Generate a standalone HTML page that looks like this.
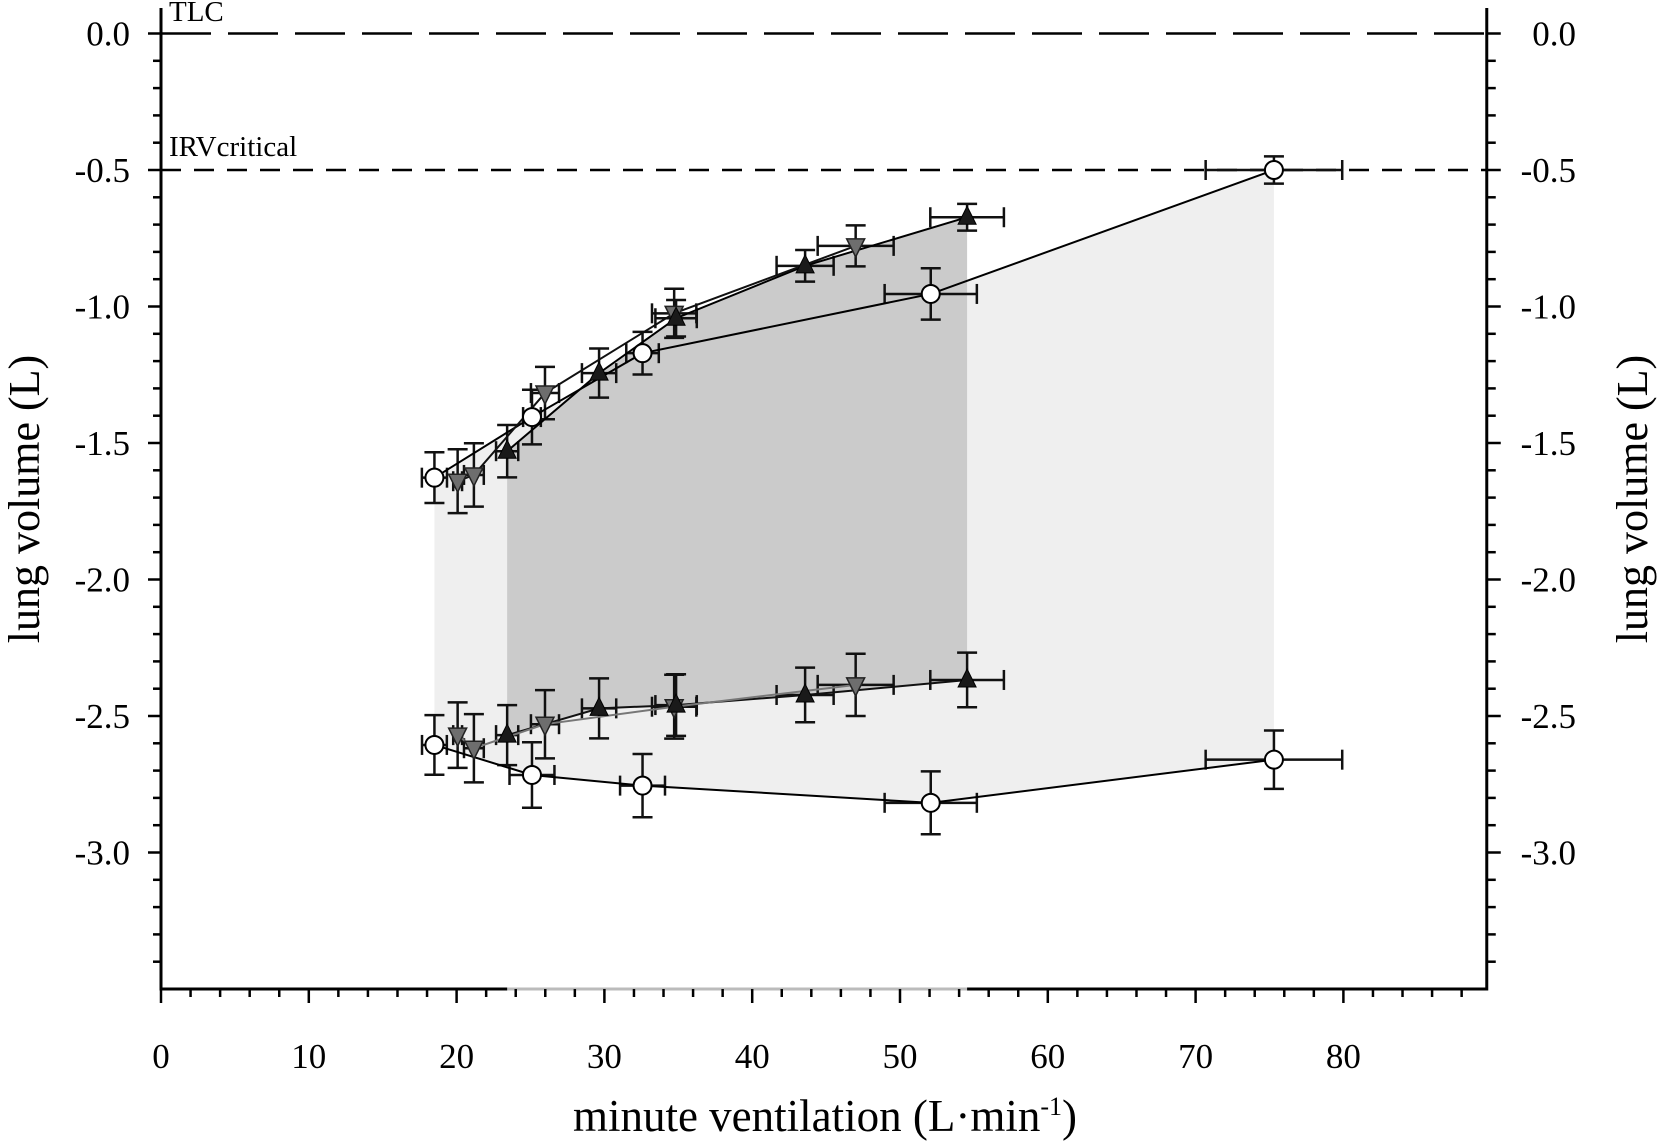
<!DOCTYPE html>
<html><head><meta charset="utf-8"><style>
html,body{margin:0;padding:0;background:#fff}
svg{display:block}
text{font-family:"Liberation Serif",serif;fill:#000}
</style></head><body>
<svg id="chart" width="1658" height="1144" viewBox="0 0 1658 1144" xmlns="http://www.w3.org/2000/svg">
<g id="shade"></g>
<g id="refs"></g>
<g id="series"></g>
<g id="axes"></g>
</svg>
<script>
// ---- data ----
const circX   = [18.5, 25.1, 32.58, 52.08, 75.3];
const circUpY = [-1.627, -1.405, -1.171, -0.954, -0.50];
const circUpYErr = [0.093, 0.10, 0.078, 0.094, 0.05];
const circLoY = [-2.606, -2.716, -2.755, -2.818, -2.66];
const circLoYErr = [0.109, 0.12, 0.116, 0.115, 0.107];
const circXErr = [0.85, 0.6, 1.1, 3.12, 4.62];
const circLoXErr = [0.84, 1.52, 1.52, 3.12, 4.62];

const upX   = [23.42, 29.64, 34.85, 43.58, 54.54];
const upUpY = [-1.53, -1.244, -1.043, -0.851, -0.673];
const upUpYErr = [0.096, 0.09, 0.067, 0.058, 0.049];
const upLoY = [-2.57, -2.472, -2.46, -2.423, -2.368];
const upLoYErr = [0.11, 0.11, 0.113, 0.10, 0.10];
const upXErr = [0.75, 1.16, 1.4, 1.93, 2.49];

const dnX   = [20.07, 21.17, 25.98, 34.72, 47.0];
const dnUpY = [-1.64, -1.617, -1.317, -1.025, -0.778];
const dnUpYErr = [0.117, 0.116, 0.096, 0.09, 0.075];
const dnLoY = [-2.57, -2.618, -2.53, -2.466, -2.386];
const dnLoYErr = [0.12, 0.125, 0.125, 0.117, 0.114];
const dnXErr = [0.3, 0.67, 0.95, 1.5, 2.57];

const xTicks = [0, 10, 20, 30, 40, 50, 60, 70, 80];
const yTicks = [0, -0.5, -1.0, -1.5, -2.0, -2.5, -3.0];
const yTickLabels = ["0.0", "-0.5", "-1.0", "-1.5", "-2.0", "-2.5", "-3.0"];

// ---- scales ----
const X0 = 161, XPU = 14.78, XMAX = 89.7;
const Y0 = 33.5, YPU = 273, YMIN = -3.5;
const sx = v => X0 + v * XPU;
const sy = v => Y0 - v * YPU;
const NS = "http://www.w3.org/2000/svg";
function mk(tag, attrs, parent) {
  const e = document.createElementNS(NS, tag);
  for (const k in attrs) e.setAttribute(k, attrs[k]);
  parent.appendChild(e);
  return e;
}
const gShade = document.getElementById('shade');
const gRefs = document.getElementById('refs');
const gSer = document.getElementById('series');
const gAx = document.getElementById('axes');

// ---- shading ----
function poly(xs, top, bot, fill, name) {
  const pts = [];
  xs.forEach((x, i) => pts.push(sx(x) + ',' + sy(top[i])));
  for (let i = xs.length - 1; i >= 0; i--) pts.push(sx(xs[i]) + ',' + sy(bot[i]));
  const p = mk('polygon', {points: pts.join(' '), fill: fill}, gShade);
  
  
}
poly(circX, circUpY, circLoY, '#efefef', 'circle-range-shade');
poly(upX, upUpY, upLoY, '#cbcbcb', 'triangle-range-shade');

// ---- reference lines ----
const yRight = sx(XMAX);
let l = mk('line', {x1: X0, x2: yRight, y1: sy(0), y2: sy(0), stroke: '#000', 'stroke-width': 2.5, 'stroke-dasharray': '50 17'}, gRefs);


l = mk('line', {x1: X0, x2: yRight, y1: sy(-0.5), y2: sy(-0.5), stroke: '#000', 'stroke-width': 2.5, 'stroke-dasharray': '20 13'}, gRefs);


let t = mk('text', {x: 169, y: 21, 'font-size': 29}, gRefs); t.textContent = 'TLC';


t = mk('text', {x: 169, y: 156, 'font-size': 29}, gRefs); t.textContent = 'IRVcritical';



// ---- series ----
function line(xs, ys, color, name) {
  const p = mk('polyline', {points: xs.map((x, i) => sx(x) + ',' + sy(ys[i])).join(' '), fill: 'none', stroke: color, 'stroke-width': 2}, gSer);
  
  
}
function errs(xs, ys, xe, ye, name) {
  const g = mk('g', {stroke: '#111', 'stroke-width': 2.5, fill: 'none'}, gSer);
  
  
  xs.forEach((x, i) => {
    const cx = sx(x), cy = sy(ys[i]);
    const y1 = sy(ys[i] + ye[i]), y2 = sy(ys[i] - ye[i]);
    mk('line', {x1: cx, x2: cx, y1: y1, y2: y2}, g);
    mk('line', {x1: cx - 10, x2: cx + 10, y1: y1, y2: y1}, g);
    mk('line', {x1: cx - 10, x2: cx + 10, y1: y2, y2: y2}, g);
    const xa = sx(x - xe[i]), xb = sx(x + xe[i]);
    mk('line', {x1: xa, x2: xb, y1: cy, y2: cy}, g);
    mk('line', {x1: xa, x2: xa, y1: cy - 10, y2: cy + 10}, g);
    mk('line', {x1: xb, x2: xb, y1: cy - 10, y2: cy + 10}, g);
  });
}
function markers(xs, ys, kind, name) {
  const g = mk('g', {}, gSer);
  
  
  xs.forEach((x, i) => {
    const cx = sx(x), cy = sy(ys[i]);
    if (kind === 'circle') mk('circle', {cx: cx, cy: cy, r: 9, fill: '#fff', stroke: '#000', 'stroke-width': 2}, g);
    else if (kind === 'up') mk('polygon', {points: `${cx},${cy-11} ${cx-9},${cy+7} ${cx+9},${cy+7}`, fill: '#1a1a1a', stroke: '#000', 'stroke-width': 1}, g);
    else mk('polygon', {points: `${cx},${cy+11} ${cx-9},${cy-7} ${cx+9},${cy-7}`, fill: '#6e6e6e', stroke: '#222', 'stroke-width': 1.5}, g);
  });
}
errs(circX, circUpY, circXErr, circUpYErr, 'circle-upper-error-bars');
errs(circX, circLoY, circLoXErr, circLoYErr, 'circle-lower-error-bars');
errs(upX, upUpY, upXErr, upUpYErr, 'up-triangle-upper-error-bars');
errs(upX, upLoY, upXErr, upLoYErr, 'up-triangle-lower-error-bars');
errs(dnX, dnUpY, dnXErr, dnUpYErr, 'down-triangle-upper-error-bars');
errs(dnX, dnLoY, dnXErr, dnLoYErr, 'down-triangle-lower-error-bars');
line(circX, circUpY, '#000', 'circle-upper-line');
line(circX, circLoY, '#000', 'circle-lower-line');
line(upX, upUpY, '#000', 'up-triangle-upper-line');
line(upX, upLoY, '#111', 'up-triangle-lower-line');
line(dnX, dnUpY, '#111', 'down-triangle-upper-line');
line(dnX, dnLoY, '#777', 'down-triangle-lower-line');
markers(circX, circUpY, 'circle', 'circle-upper-markers');
markers(circX, circLoY, 'circle', 'circle-lower-markers');
markers(dnX, dnUpY, 'down', 'down-triangle-upper-markers');
markers(dnX, dnLoY, 'down', 'down-triangle-lower-markers');
markers(upX, upUpY, 'up', 'up-triangle-upper-markers');
markers(upX, upLoY, 'up', 'up-triangle-lower-markers');

// ---- axes ----
const yBot = sy(YMIN);
const axS = {stroke: '#000', 'stroke-width': 3};
let a = mk('line', Object.assign({x1: X0, x2: X0, y1: 8, y2: yBot + 1.5}, axS), gAx);


a = mk('line', Object.assign({x1: yRight, x2: yRight, y1: 8, y2: yBot + 1.5}, axS), gAx);


a = mk('line', Object.assign({x1: X0, x2: yRight, y1: yBot, y2: yBot}, axS), gAx);


mk('line', {x1: sx(upX[0]), x2: sx(upX[upX.length-1]), y1: yBot, y2: yBot, stroke: '#bbb', 'stroke-width': 3}, gAx);
for (let k = 0; k <= 34; k++) {
  const v = -k / 10, y = sy(v), maj = k % 5 === 0;
  mk('line', {x1: X0 - (maj ? 13 : 8), x2: X0, y1: y, y2: y, stroke: '#000', 'stroke-width': 2.5}, gAx);
  mk('line', {x1: yRight, x2: yRight + (maj ? 14 : 9), y1: y, y2: y, stroke: '#000', 'stroke-width': 2.5}, gAx);
}
for (let v = 0; v <= 88; v += 2) {
  const x = sx(v), maj = v % 10 === 0;
  mk('line', {x1: x, x2: x, y1: yBot, y2: yBot + (maj ? 14 : 8), stroke: '#000', 'stroke-width': 2.5}, gAx);
}
yTicks.forEach((v, i) => {
  let tl = mk('text', {x: 130, y: sy(v) + 12, 'font-size': 35, 'text-anchor': 'end'}, gAx);
  tl.textContent = yTickLabels[i];
  
  
  tl = mk('text', {x: 1576, y: sy(v) + 12, 'font-size': 35, 'text-anchor': 'end'}, gAx);
  tl.textContent = yTickLabels[i];
  
  
});
xTicks.forEach(v => {
  const tl = mk('text', {x: sx(v), y: 1068, 'font-size': 35, 'text-anchor': 'middle'}, gAx);
  tl.textContent = String(v);
  
  
});
let ti = mk('text', {x: 0, y: 0, 'font-size': 44, 'text-anchor': 'middle', transform: 'translate(39,499) rotate(-90)'}, gAx);
ti.textContent = 'lung volume (L)';


ti = mk('text', {x: 0, y: 0, 'font-size': 44, 'text-anchor': 'middle', transform: 'translate(1647,499) rotate(-90)'}, gAx);
ti.textContent = 'lung volume (L)';


ti = mk('text', {x: 825, y: 1131, 'font-size': 45, 'text-anchor': 'middle'}, gAx);
ti.innerHTML = 'minute ventilation (L·min<tspan dy="-16" font-size="26">-1</tspan><tspan dy="16">)</tspan>';


</script>
</body></html>
